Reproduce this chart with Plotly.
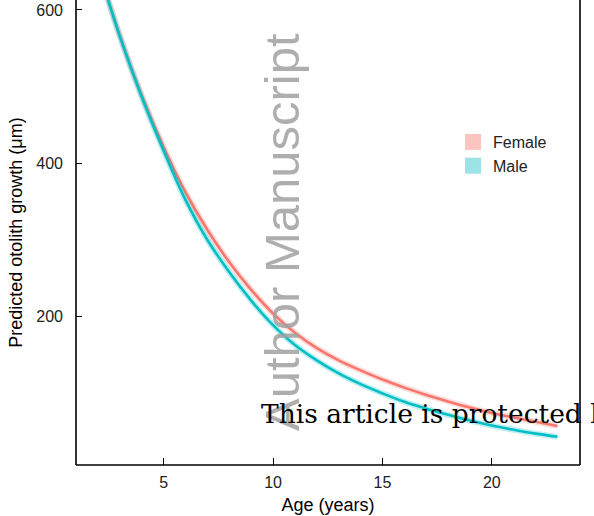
import plotly.graph_objects as go

ages = list(range(2, 24))
female = [655, 566, 488, 421, 362, 313, 271, 235, 204, 179, 159, 143, 130, 118,
          107.5, 98, 89.5, 81.5, 74.5, 68.5, 63, 57.5]
male = [655, 565, 486, 416, 352, 300, 258, 221, 189, 163, 143, 126, 112, 100,
        89, 80, 72, 64.5, 58, 52.5, 47.5, 43.5]

x_ticks = [5, 10, 15, 20]
y_ticks = [200, 400, 600]

series = [
    ("Female", female, "#F8766D", "rgba(248,118,109,0.25)", "#FBC4C0"),
    ("Male", male, "#00BFC4", "rgba(0,191,196,0.25)", "#9BE3E5"),
]

fig = go.Figure()
for name, vals, col, halo, patch in series:
    fig.add_trace(go.Scatter(x=ages, y=vals, mode="lines", showlegend=False,
                             line=dict(color=halo, width=6, shape="spline"),
                             hoverinfo="skip"))
    fig.add_trace(go.Scatter(x=ages, y=vals, mode="lines", name=name, showlegend=False,
                             line=dict(color=col, width=2.6, shape="spline")))
for name, vals, col, halo, patch in series:
    fig.add_trace(go.Scatter(x=[None], y=[None], mode="markers", name=name,
                             marker=dict(symbol="square", size=18, color=patch)))

L, R, B = 76, 14, 51
W, H = 594, 516
pw, ph = W - L - R, H - B

fig.update_layout(
    width=W, height=H,
    margin=dict(l=L, r=R, t=0, b=B),
    plot_bgcolor="white", paper_bgcolor="white",
    font=dict(family="Liberation Sans, Arial, sans-serif", color="black"),
    xaxis=dict(range=[0.99, 24.03], tickvals=x_ticks, ticks="inside", ticklen=7,
               tickwidth=1, tickcolor="black", showgrid=False, zeroline=False,
               showline=False, tickfont=dict(size=16, color="#222"),
               ticklabelstandoff=6,
               title=dict(text="Age (years)", font=dict(size=18), standoff=8)),
    yaxis=dict(range=[6.6, 613], tickvals=y_ticks, ticks="inside", ticklen=6,
               tickwidth=1, tickcolor="black", showgrid=False, zeroline=False,
               showline=False, tickfont=dict(size=16, color="#222"),
               ticklabelstandoff=12,
               title=dict(text="Predicted otolith growth (μm)", font=dict(size=18),
                          standoff=8)),
    legend=dict(x=(453 - L) / pw, y=(ph - 125) / ph, xanchor="left", yanchor="top",
                bgcolor="rgba(0,0,0,0)", font=dict(size=16, color="#222"),
                itemsizing="trace"),
    showlegend=True,
)

# box lines (left, bottom, right); top is outside the cropped view
for x0, y0, x1, y1 in [(0, 0, 0, 1), (0, 0, 1, 0), (1, 0, 1, 1)]:
    fig.add_shape(type="line", xref="paper", yref="paper", x0=x0, y0=y0, x1=x1, y1=y1,
                  line=dict(color="black", width=1.6), layer="above")

fig.add_annotation(text="Author Manuscript", xref="paper", yref="paper",
                   x=(282 - L) / pw, y=(ph - 232) / ph, textangle=-90,
                   showarrow=False, xanchor="center", yanchor="middle",
                   font=dict(size=49, color="rgba(160,160,160,0.85)",
                             family="Liberation Sans, Arial, sans-serif"))
fig.add_annotation(text="This article is protected by copyright. All rights reserved",
                   xref="paper", yref="paper", x=(259 - L) / pw, y=(ph - 413) / ph,
                   showarrow=False, xanchor="left", yanchor="middle",
                   font=dict(size=26.5, color="black",
                             family="DejaVu Serif, Liberation Serif, serif"))

fig.write_html("out.html")
